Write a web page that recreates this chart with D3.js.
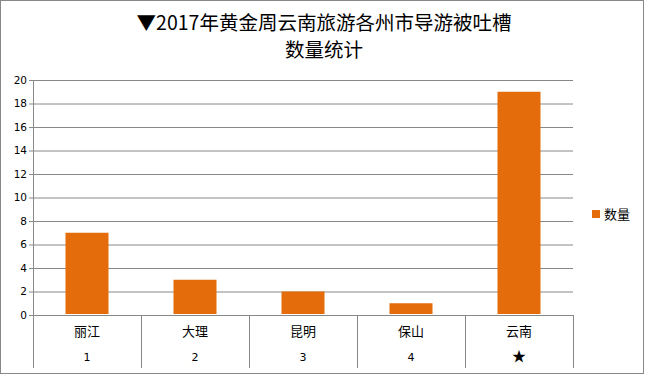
<!DOCTYPE html>
<html>
<head>
<meta charset="utf-8">
<script src="https://cdn.jsdelivr.net/npm/d3@7"></script>
<style>
  body { margin: 0; background: #fff; }
  svg { display: block; }
</style>
</head>
<body>
<svg id="svg" width="645" height="375"></svg>
<script>
// data
const cities = ['丽江', '大理', '昆明', '保山', '云南'];
const ranks = ['1', '2', '3', '4', '★'];
const counts = [7, 3, 2, 1, 19];
const yTicks = [0, 2, 4, 6, 8, 10, 12, 14, 16, 18, 20];
const seriesName = '数量';
const titleLines = ['▼2017年黄金周云南旅游各州市导游被吐槽', '数量统计'];

const svg = d3.select('#svg');
const cjk = '"Noto Sans CJK SC", sans-serif';
const orange = '#E46C0A';
const grey = '#888888';

// outer border
svg.append('rect')
  .attr('x', 0.5).attr('y', 0.5)
  .attr('width', 643).attr('height', 373)
  .attr('fill', '#fff').attr('stroke', grey);

// title, two lines
svg.selectAll('.title').data(titleLines).enter()
  .append('text')
  .attr('class', 'title')
  .attr('x', 324)
  .attr('y', (d, i) => 30 + i * 27)
  .attr('text-anchor', 'middle')
  .attr('font-family', cjk)
  .attr('font-size', 19.5)
  .attr('fill', '#000')
  .text(d => d);

const plotL = 33, plotR = 573, plotT = 80, plotB = 315;

const x = d3.scaleBand().domain(cities).range([plotL, plotR]).paddingInner(0).paddingOuter(0);
const y = d3.scaleLinear().domain([0, 20]).range([plotB, plotT]);

// gridlines + y axis
const yAxis = d3.axisLeft(y).tickValues(yTicks).tickSize(-(plotR - plotL)).tickSizeOuter(0).tickPadding(6);
const gy = svg.append('g').attr('transform', `translate(${plotL},0)`).call(yAxis);
gy.select('.domain').attr('stroke', grey);
gy.selectAll('.tick line').attr('stroke', grey).attr('x1', -4);
gy.selectAll('.tick text')
  .attr('font-family', '"DejaVu Sans", sans-serif')
  .attr('font-size', 10.5)
  .attr('fill', '#000');

// bars
const bw = 43;
svg.selectAll('.bar').data(counts).enter()
  .append('rect')
  .attr('class', 'bar')
  .attr('x', (d, i) => x(cities[i]) + x.bandwidth() / 2 - bw / 2)
  .attr('y', d => y(d))
  .attr('width', bw)
  .attr('height', d => y(0) - y(d) - 1)
  .attr('fill', orange);

// category axis with separators
svg.append('line')
  .attr('x1', plotL).attr('x2', plotR)
  .attr('y1', plotB + 0.5).attr('y2', plotB + 0.5)
  .attr('stroke', grey);
const seps = cities.map(c => x(c)).concat([plotR]);
svg.selectAll('.sep').data(seps).enter()
  .append('line')
  .attr('x1', d => Math.round(d) + 0.5).attr('x2', d => Math.round(d) + 0.5)
  .attr('y1', plotB).attr('y2', 368)
  .attr('stroke', grey);

svg.selectAll('.cat').data(cities).enter()
  .append('text')
  .attr('x', d => x(d) + x.bandwidth() / 2)
  .attr('y', 336)
  .attr('text-anchor', 'middle')
  .attr('font-family', cjk)
  .attr('font-size', 13)
  .text(d => d);

svg.selectAll('.rank').data(ranks).enter()
  .append('text')
  .attr('x', (d, i) => x(cities[i]) + x.bandwidth() / 2)
  .attr('y', 361)
  .attr('text-anchor', 'middle')
  .attr('font-family', (d, i) => i === 4 ? cjk : '"DejaVu Sans", sans-serif')
  .attr('font-size', (d, i) => i === 4 ? 14 : 11)
  .text(d => d);

// legend
svg.append('rect')
  .attr('x', 592).attr('y', 210)
  .attr('width', 8).attr('height', 8)
  .attr('fill', orange);
svg.append('text')
  .attr('x', 604).attr('y', 219)
  .attr('font-family', cjk)
  .attr('font-size', 13)
  .text(seriesName);
</script>
</body>
</html>
